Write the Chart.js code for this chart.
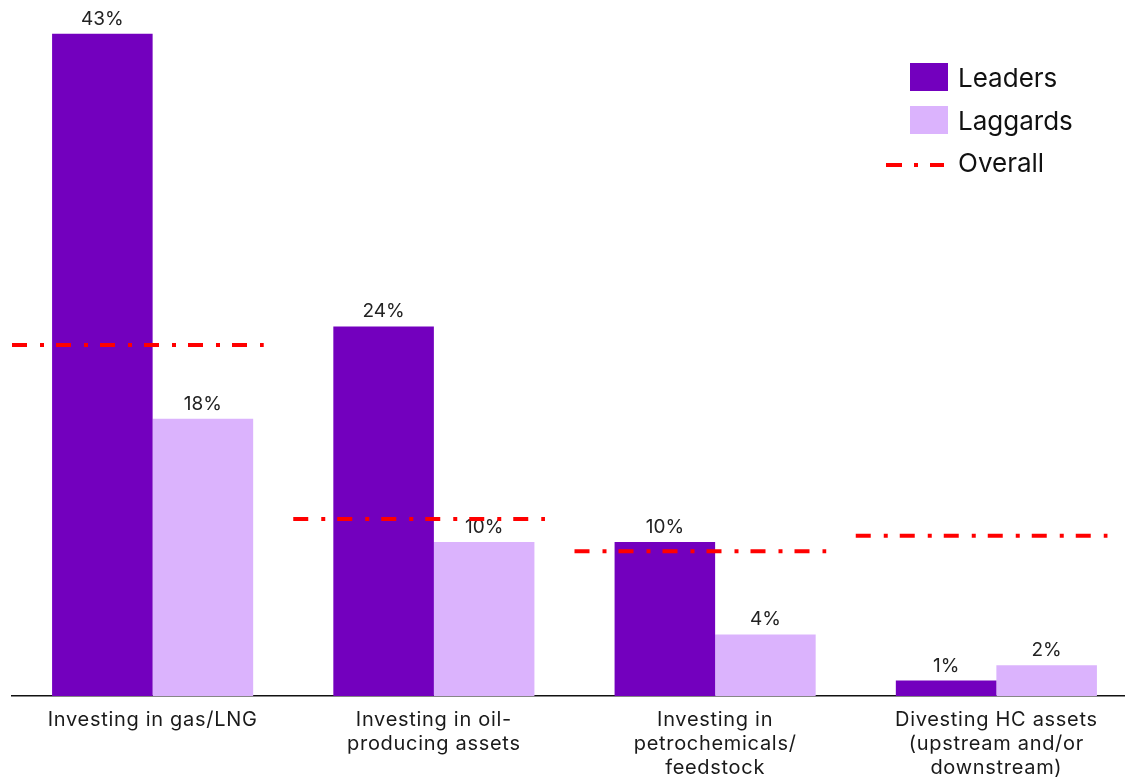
<!DOCTYPE html>
<html>
<head>
<meta charset="utf-8">
<script src="https://cdn.jsdelivr.net/npm/chart.js@4/dist/chart.umd.min.js"></script>
<style>
  html, body { margin: 0; padding: 0; background: #fff; overflow: hidden; }
  #wrap { position: relative; width: 1137px; height: 782px; }
</style>
</head>
<body>
<div id="wrap"><canvas id="c"></canvas></div>
<script>
const categories = [
  ["Investing in gas/LNG"],
  ["Investing in oil-", "producing assets"],
  ["Investing in", "petrochemicals/", "feedstock"],
  ["Divesting HC assets", "(upstream and/or", "downstream)"]
];
const leaders = [43, 24, 10, 1];
const laggards = [18, 10, 4, 2];
const overall = [22.8, 11.5, 9.4, 10.4];
const seriesNames = ["Leaders", "Laggards", "Overall"];

const COL_LEAD = "#7300be";
const COL_LAG = "#dbb3fd";
const COL_OVR = "#ff0000";
const FONT = "Inter, 'Open Sans', sans-serif";
const DASH = [15, 13, 4, 12];

const spacingPlugin = {
  id: "spacing",
  beforeLayout(chart) { chart.ctx.letterSpacing = "0.7px"; },
  beforeDraw(chart) { chart.ctx.letterSpacing = "0.7px"; }
};

const labelsPlugin = {
  id: "valueLabels",
  afterDatasetsDraw(chart) {
    const ctx = chart.ctx;
    ctx.save();
    ctx.letterSpacing = "0px";
    ctx.font = "19px " + FONT;
    ctx.fillStyle = "#222";
    ctx.textAlign = "center";
    ctx.textBaseline = "alphabetic";
    chart.data.datasets.forEach((ds, di) => {
      const meta = chart.getDatasetMeta(di);
      meta.data.forEach((bar, i) => {
        ctx.fillText(ds.data[i] + "%", bar.x, bar.y - 9);
      });
    });
    // overall lines
    const xs = chart.scales.x, ys = chart.scales.y;
    const w = xs.width / categories.length;
    ctx.strokeStyle = COL_OVR;
    ctx.lineWidth = 4;
    ctx.setLineDash(DASH);
    ctx.lineCap = "butt";
    overall.forEach((v, i) => {
      const cx = xs.getPixelForValue(i);
      const y = ys.getPixelForValue(v);
      const x0 = cx - w / 2;
      const x1 = x0 + w * 0.895;
      ctx.beginPath();
      ctx.moveTo(x0, y);
      ctx.lineTo(x1, y);
      ctx.stroke();
    });
    ctx.setLineDash([]);
    // legend
    ctx.font = "26px " + FONT;
    ctx.textAlign = "left";
    ctx.textBaseline = "middle";
    ctx.fillStyle = COL_LEAD;
    ctx.fillRect(910, 63, 38, 28);
    ctx.fillStyle = COL_LAG;
    ctx.fillRect(910, 106, 38, 28);
    ctx.strokeStyle = COL_OVR;
    ctx.lineWidth = 4;
    ctx.setLineDash([16, 12, 4, 12]);
    ctx.beginPath();
    ctx.moveTo(886, 165);
    ctx.lineTo(944, 165);
    ctx.stroke();
    ctx.setLineDash([]);
    ctx.fillStyle = "#111";
    ctx.fillText(seriesNames[0], 958, 79);
    ctx.fillText(seriesNames[1], 958, 122);
    ctx.fillText(seriesNames[2], 958, 164);
    ctx.restore();
  }
};

new Chart(document.getElementById("c"), {
  type: "bar",
  data: {
    labels: categories,
    datasets: [
      { label: seriesNames[0], data: leaders, backgroundColor: COL_LEAD, categoryPercentage: 0.715, barPercentage: 1.0 },
      { label: seriesNames[1], data: laggards, backgroundColor: COL_LAG, categoryPercentage: 0.715, barPercentage: 1.0 }
    ]
  },
  options: {
    responsive: true,
    maintainAspectRatio: false,
    animation: false,
    layout: { padding: { left: 12, right: 0, top: 3, bottom: 0 } },
    plugins: { legend: { display: false }, tooltip: { enabled: false } },
    scales: {
      x: {
        grid: { display: false, drawTicks: false },
        border: { display: true, color: "#111", width: 1.5 },
        ticks: { color: "#1a1a1a", font: { family: FONT, size: 20, lineHeight: 1.2 }, padding: 12, maxRotation: 0, autoSkip: false },
        afterFit(scale) { scale.height = 86; }
      },
      y: {
        display: false,
        min: 0,
        max: 45
      }
    }
  },
  plugins: [spacingPlugin, labelsPlugin]
});
</script>
</body>
</html>
